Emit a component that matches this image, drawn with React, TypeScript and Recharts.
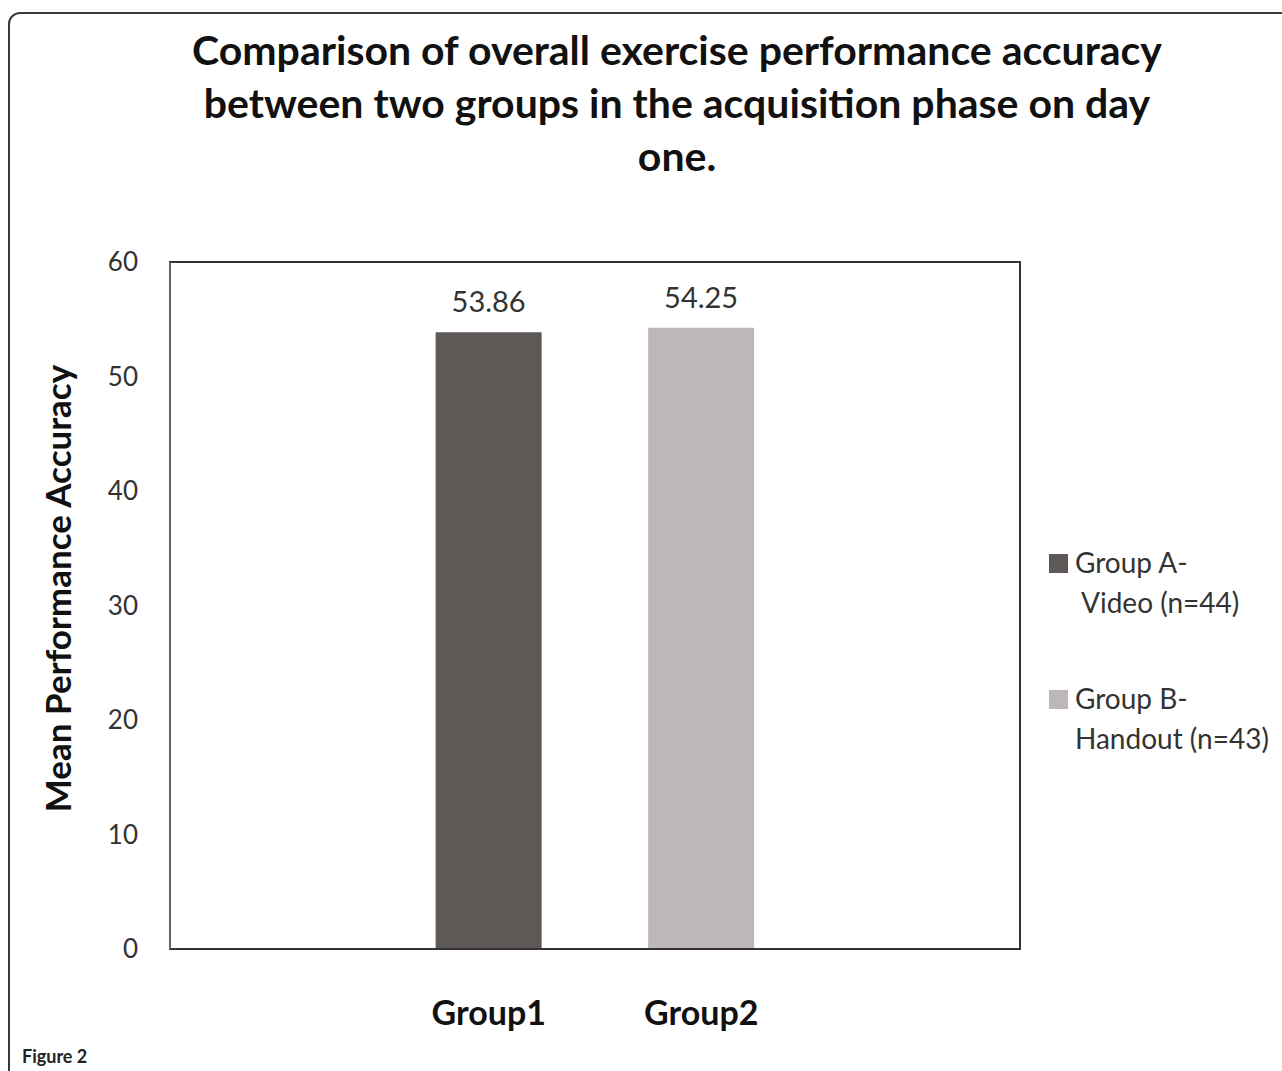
import React from "react";
import { Bar, BarChart, Cell, LabelList, ReferenceArea, XAxis, YAxis } from "recharts";

const titleLines = [
  "Comparison of overall exercise performance accuracy",
  "between two groups in the acquisition phase on day",
  "one.",
];
// the Excel chart has an empty slot on each side of the two groups
const categories = ["", "Group1", "Group2", ""];
const meanAccuracy = [null, 53.86, 54.25, null];
const barColors = ["#5e5957", "#5e5957", "#bdb8b7", "#bdb8b7"];
const yTicks = [0, 10, 20, 30, 40, 50, 60];
const legendItems = [
  { key: "a", lines: ["Group A-", "Video (n=44)"], color: "#5e5957", indent: 6 },
  { key: "b", lines: ["Group B-", "Handout (n=43)"], color: "#bdb8b7", indent: 0 },
];

const FONT = "Lato, 'Open Sans', sans-serif";

const data = categories.map((name, i) => ({ name, value: meanAccuracy[i] }));

function YLabel(props: any) {
  const vb = props.viewBox || { x: 0, y: 0, width: 0, height: 0 };
  const x = vb.x + 57;
  const y = vb.y + vb.height / 2 - 17;
  return (
    <text
      x={x}
      y={y}
      transform={`rotate(-90 ${x} ${y})`}
      textAnchor="middle"
      dominantBaseline="central"
      fontFamily={FONT}
      fontWeight={700}
      fontSize={35}
      fill="#111"
    >
      Mean Performance Accuracy
    </text>
  );
}

export default function App() {
  return (
    <div
      style={{
        position: "absolute",
        left: 0,
        top: 0,
        width: 1282,
        height: 1071,
        overflow: "hidden",
        background: "#fff",
        fontFamily: FONT,
      }}
    >
      <div
        style={{
          position: "absolute",
          left: 8,
          top: 12,
          width: 1320,
          height: 1120,
          border: "2px solid #3a3a3a",
          borderRadius: 12,
          boxSizing: "border-box",
        }}
      />
      <div
        style={{
          position: "absolute",
          left: 177,
          top: 23,
          width: 1000,
          textAlign: "center",
          fontSize: 41,
          fontWeight: 700,
          lineHeight: "53px",
          color: "#111",
        }}
      >
        {titleLines.map((l) => (
          <div key={l}>{l}</div>
        ))}
      </div>
      <div style={{ position: "absolute", left: 0, top: 0 }}>
        <BarChart
          width={1282}
          height={1071}
          data={data}
          margin={{ top: 262, right: 262, bottom: 0, left: 0 }}
          barCategoryGap="25%"
        >
          <ReferenceArea
            y1={0}
            y2={60}
            fill="none"
            stroke="#333"
            strokeWidth={2}
            ifOverflow="visible"
          />
          <XAxis
            dataKey="name"
            height={122}
            tickSize={0}
            tickMargin={52}
            axisLine={{ stroke: "#333", strokeWidth: 2 }}
            tick={{ fontSize: 34, fontWeight: 700, fill: "#111", fontFamily: FONT }}
            interval={0}
          />
          <YAxis
            domain={[0, 60]}
            ticks={yTicks}
            width={170}
            tickSize={0}
            tickMargin={32}
            axisLine={{ stroke: "#999", strokeWidth: 1 }}
            tick={{ fontSize: 26, fill: "#333", fontFamily: FONT }}
            label={{ content: YLabel }}
          />
          <Bar dataKey="value" isAnimationActive={false}>
            {data.map((d, i) => (
              <Cell key={i} fill={barColors[i]} />
            ))}
            <LabelList
              dataKey="value"
              position="top"
              offset={20}
              style={{ fontSize: 29, fill: "#333", fontFamily: FONT }}
            />
          </Bar>
        </BarChart>
      </div>
      <div style={{ position: "absolute", left: 1049, top: 542 }}>
        {legendItems.map((item, i) => (
          <div
            key={item.key}
            style={{
              position: "relative",
              marginTop: i === 0 ? 0 : 56,
              fontSize: 28,
              lineHeight: "40px",
              color: "#333",
            }}
          >
            <span
              style={{
                position: "absolute",
                left: 0,
                top: 12,
                width: 19,
                height: 19,
                background: item.color,
              }}
            />
            <div style={{ paddingLeft: 26 }}>{item.lines[0]}</div>
            <div style={{ paddingLeft: 26 + item.indent }}>{item.lines[1]}</div>
          </div>
        ))}
      </div>
      <div
        style={{
          position: "absolute",
          left: 22,
          top: 1045,
          fontSize: 18,
          fontWeight: 700,
          color: "#222",
        }}
      >
        Figure 2
      </div>
    </div>
  );
}
